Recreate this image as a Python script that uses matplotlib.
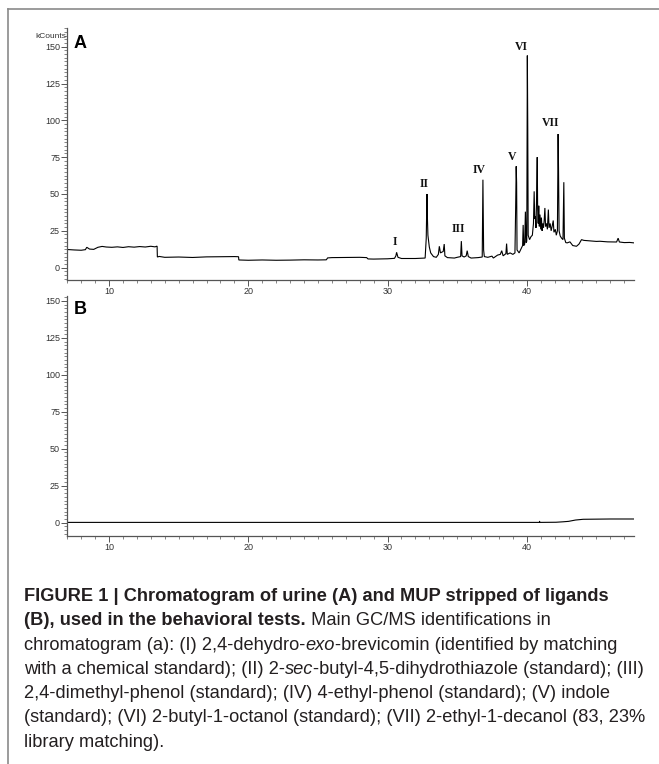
import numpy as np
import matplotlib
matplotlib.use('Agg')
import matplotlib.pyplot as plt
from matplotlib import font_manager
from matplotlib.lines import Line2D
from matplotlib.ticker import MultipleLocator

# ==============================================================================
# DATA - chromatogram traces (time in min, kCounts)
# ==============================================================================

# panel A: urine
trace_a_t = [7.0, 7.5, 8.0, 8.3, 8.4, 8.6, 8.9, 9.2, 9.5, 9.8, 10.2, 10.6, 11.0, 11.4,
             11.8, 12.2, 12.6, 13.0, 13.3, 13.45, 13.47,
             13.6, 14.0, 15.0, 16.0, 17.0, 18.0, 19.0, 19.3, 19.32,
             20.0, 21.0, 22.0, 23.0, 24.0, 25.0, 25.6, 25.7, 26.0, 27.0, 28.0, 28.5, 28.6,
             29.0, 30.0, 30.5, 30.6, 30.65, 30.75, 31.0, 32.0, 32.7, 32.78, 32.83, 32.86,
             32.9, 33.0, 33.1, 33.3, 33.5, 33.65, 33.72, 33.8, 33.9, 34.0, 34.07, 34.12,
             34.3, 34.8, 35.0, 35.25, 35.3, 35.35, 35.5, 35.65, 35.72, 35.8, 36.0, 36.5,
             36.8, 36.85, 36.9, 36.95, 37.2, 37.5, 37.6, 37.9, 38.1, 38.2, 38.3, 38.5,
             38.55, 38.6, 38.8, 39.0, 39.15, 39.2, 39.24, 39.27, 39.3, 39.45, 39.6, 39.7,
             39.74, 39.78, 39.85, 39.9, 39.95, 40.0, 40.04, 40.07, 40.1, 40.2, 40.3, 40.4,
             40.48, 40.53, 40.57, 40.62, 40.66, 40.7, 40.75, 40.78, 40.82, 40.86, 40.9,
             40.95, 41.0, 41.05, 41.1, 41.15, 41.2, 41.25, 41.3, 41.35, 41.42, 41.48, 41.55,
             41.6, 41.68, 41.75, 41.82, 41.9, 41.95, 42.05, 42.12, 42.2, 42.25, 42.28,
             42.32, 42.4, 42.5, 42.6, 42.66, 42.7, 42.8, 42.9, 43.1, 43.3, 43.57, 43.75,
             43.93, 44.1, 44.5, 45.0, 45.25, 45.8, 46.45, 46.56, 46.65, 47.0, 47.4, 47.7]
trace_a_v = [12.3, 12.0, 11.8, 12.2, 13.8, 12.6, 12.4, 13.8, 14.4, 14.0, 13.8, 14.1, 13.7, 14.2,
             13.9, 14.3, 14.0, 14.5, 14.1, 14.6, 7.2,
             7.6, 7.0, 7.2, 6.9, 7.3, 7.4, 7.5, 7.4, 5.2,
             5.0, 5.2, 5.0, 5.1, 5.3, 5.2, 5.3, 6.6, 6.8, 6.9, 7.0, 6.8, 5.9,
             5.8, 6.0, 6.3, 8.0, 10.4, 7.0, 6.2, 6.2, 6.5, 20.0, 50.0, 35.0,
             22.0, 14.0, 10.0, 7.5, 7.0, 9.0, 14.5, 10.0, 10.5, 11.0, 16.0, 8.0,
             6.8, 6.5, 7.0, 7.5, 18.0, 8.0, 7.2, 8.0, 11.5, 7.5, 6.5, 6.8,
             7.2, 59.7, 12.0, 7.5, 7.0, 7.8, 6.5, 8.5, 9.0, 11.5, 8.0, 9.5,
             16.3, 9.0, 10.0, 9.0, 10.0, 40.0, 68.8, 57.6, 12.0, 10.0, 13.0, 15.0,
             29.0, 15.0, 16.0, 38.0, 17.0, 18.0, 144.0, 95.0, 22.0, 19.0, 21.0, 22.0,
             30.0, 51.8, 33.0, 35.0, 27.0, 45.0, 75.0, 40.0, 30.0, 42.0, 28.0,
             36.0, 26.0, 34.0, 25.0, 30.0, 27.0, 32.0, 40.5, 28.0, 30.0, 26.0, 39.4,
             27.0, 30.0, 25.0, 28.0, 32.0, 24.0, 26.0, 22.0, 25.0, 90.7, 67.0,
             25.0, 21.5, 20.0, 19.0, 58.0, 20.0, 17.0, 16.8, 17.5, 15.0, 14.5, 16.0,
             19.0, 18.5, 18.2, 17.8, 17.9, 17.5, 17.4, 20.0, 17.4, 17.0, 17.1, 16.8]

# panel B: MUP stripped of ligands
trace_b_t = [7.0, 40.9, 40.92, 40.94, 42.1, 42.6, 43.0, 43.5, 44.05, 45.0, 46.0, 47.7]
trace_b_v = [0.2, 0.2, 0.9, 0.2, 0.3, 0.6, 0.9, 1.8, 2.3, 2.4, 2.5, 2.5]

# peak identifications (label position: time, bottom of text)
peak_labels = ['I', 'II', 'III', 'IV', 'V', 'VI', 'VII']
peak_label_t = [30.5, 32.6, 35.1, 36.55, 38.97, 39.6, 41.7]
peak_label_v = [13, 53, 22, 62, 71, 146, 94]

y_ticks = [0, 25, 50, 75, 100, 125, 150]
x_ticks = [10, 20, 30, 40]

caption_lines = [
    [("FIGURE 1 | Chromatogram of urine (A) and MUP stripped of ligands", 'bold', 'normal')],
    [("(B), used in the behavioral tests.", 'bold', 'normal'),
     (" Main GC/MS identifications in", 'normal', 'normal')],
    [("chromatogram (a): (I) 2,4-dehydro-", 'normal', 'normal'), ("exo", 'normal', 'italic'),
     ("-brevicomin (identified by matching", 'normal', 'normal')],
    [("with a chemical standard); (II) 2-", 'normal', 'normal'), ("sec", 'normal', 'italic'),
     ("-butyl-4,5-dihydrothiazole (standard); (III)", 'normal', 'normal')],
    [("2,4-dimethyl-phenol (standard); (IV) 4-ethyl-phenol (standard); (V) indole", 'normal', 'normal')],
    [("(standard); (VI) 2-butyl-1-octanol (standard); (VII) 2-ethyl-1-decanol (83, 23%", 'normal', 'normal')],
    [("library matching).", 'normal', 'normal')],
]

# ==============================================================================
# FIGURE
# ==============================================================================
W, H = 659, 764
plt.rcParams['font.family'] = ['Liberation Sans', 'DejaVu Sans']
fig = plt.figure(figsize=(W / 100, H / 100), dpi=100)

def px_axes(x0, y_top, x1, y_bot):
    return fig.add_axes([x0 / W, 1 - y_bot / H, (x1 - x0) / W, (y_bot - y_top) / H])

ax_a = px_axes(67, 28, 634, 280)
ax_b = px_axes(67, 296, 634, 536)

axis_col = '#555555'
for ax, ylim in [(ax_a, (-8.4, 162.7)), (ax_b, (-9.0, 153.3))]:
    ax.set_xlim(6.98, 47.7)
    ax.set_ylim(*ylim)
    for s in ['top', 'right']:
        ax.spines[s].set_visible(False)
    for s in ['left', 'bottom']:
        ax.spines[s].set_color(axis_col)
        ax.spines[s].set_linewidth(0.9)
    ax.set_yticks(y_ticks)
    ax.set_xticks(x_ticks)
    ax.yaxis.set_minor_locator(MultipleLocator(2.5))
    ax.xaxis.set_minor_locator(MultipleLocator(1))
    ax.tick_params(which='major', length=4, width=0.7, color=axis_col,
                   labelsize=6.5, labelcolor='#333333', pad=1)
    ax.tick_params(which='minor', length=2, width=0.5, color=axis_col)
    ax.patch.set_alpha(0)

ax_a.plot(trace_a_t, trace_a_v, color='black', linewidth=0.8, solid_joinstyle='miter')
ax_b.plot(trace_b_t, trace_b_v, color='black', linewidth=0.8)

for lab, t, v in zip(peak_labels, peak_label_t, peak_label_v):
    ax_a.text(t, v, lab, ha='center', va='bottom', fontsize=8.5, fontweight='bold',
              family=['Liberation Serif', 'DejaVu Serif'], color='#111111')

ax_a.text(0.011, 0.922, 'A', transform=ax_a.transAxes, fontsize=13, fontweight='bold',
          ha='left', va='baseline')
ax_b.text(0.012, 0.925, 'B', transform=ax_b.transAxes, fontsize=13, fontweight='bold',
          ha='left', va='baseline')
fig.text(66 / W, 1 - 38 / H, 'kCounts', fontsize=6, color='#333333',
         ha='right', va='baseline')

# gray frame around the figure panel
frame_col = '#8a8a8a'
fig.add_artist(Line2D([8 / W, 1.0], [1 - 9 / H, 1 - 9 / H], transform=fig.transFigure,
                      color=frame_col, linewidth=1.2))
fig.add_artist(Line2D([8 / W, 8 / W], [0.0, 1 - 9 / H], transform=fig.transFigure,
                      color=frame_col, linewidth=1.2))

# ==============================================================================
# CAPTION
# ==============================================================================
def has_font(name):
    try:
        font_manager.findfont(name, fallback_to_default=False)
        return True
    except Exception:
        return False

cap_family = ['Liberation Sans Narrow', 'DejaVu Sans'] if has_font('Liberation Sans Narrow') \
    else ['Liberation Sans', 'DejaVu Sans']
renderer = fig.canvas.get_renderer()

def draw_caption_line(pieces, x0, y, size, draw=True):
    x = x0
    made = []
    for txt, weight, style in pieces:
        t = fig.text(x / W, 1 - y / H, txt, fontsize=size, fontweight=weight, fontstyle=style,
                     family=cap_family, color='#231f20', ha='left', va='baseline')
        x += t.get_window_extent(renderer=renderer).width
        made.append(t)
    if not draw:
        for t in made:
            t.remove()
    return x - x0

# fit font size so the widest line spans the same width as in the original
base_size = 11
w = draw_caption_line(caption_lines[3], 24, 0, base_size, draw=False)
cap_size = base_size * 621 / w

baseline0, step = 601, 24.3
for i, line in enumerate(caption_lines):
    draw_caption_line(line, 24, baseline0 + i * step, cap_size)

fig.savefig('out.png', dpi=100)
